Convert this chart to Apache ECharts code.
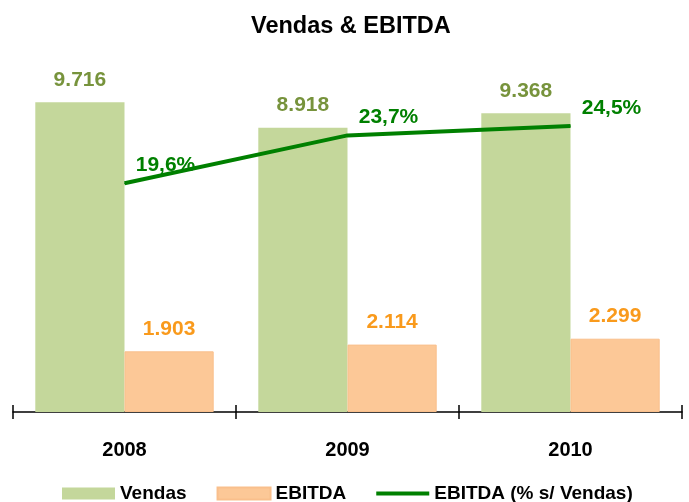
<!DOCTYPE html>
<html>
<head>
<meta charset="utf-8">
<title>Vendas & EBITDA</title>
<script src="https://cdn.jsdelivr.net/npm/echarts@6/dist/echarts.min.js"></script>
<style>
  html, body { margin: 0; padding: 0; background: #fff; }
  #chart { width: 689px; height: 502px; }
</style>
</head>
<body>
<div id="chart"></div>
<script>
// dados
const years = ['2008', '2009', '2010']
const vendas = [9716, 8918, 9368]
const ebitda = [1903, 2114, 2299]
const margem = [19.6, 23.7, 24.5]

const fonte = '"Liberation Sans", Arial, sans-serif'

// 9716 -> "9.716"
const milhar = (v) => String(v).replace(/\B(?=(\d{3})+(?!\d))/g, '.')
// 19.6 -> "19,6%"
const pct = (v) => v.toFixed(1).replace('.', ',') + '%'

// ícone da legenda: só a linha (caixa 53x12, traço de 4px no meio)
const iconeLinha = 'path://M0,0 L1,0 M0,4 L53,4 L53,8 L0,8 Z M0,12 L1,12'

const chart = echarts.init(document.getElementById('chart'))

const option = {
  animation: false,
  textStyle: { fontFamily: fonte },
  title: {
    text: 'Vendas & EBITDA',
    left: 251,
    top: 15,
    padding: 0,
    textStyle: { fontFamily: fonte, fontSize: 23.5, fontWeight: 'bold', color: '#000' }
  },
  legend: {
    left: 62,
    top: 484,
    padding: 0,
    itemWidth: 53,
    itemHeight: 12,
    itemGap: 30,
    textStyle: { fontFamily: fonte, fontSize: 19, fontWeight: 'bold', color: '#000' },
    data: [
      { name: 'Vendas', icon: 'rect' },
      { name: 'EBITDA', icon: 'rect' },
      { name: 'EBITDA (% s/ Vendas)', icon: iconeLinha, itemStyle: { color: '#008000' } }
    ]
  },
  grid: { left: 13, right: 7, top: 72, bottom: 90 },
  xAxis: [
    {
      type: 'category',
      data: years,
      axisLine: { lineStyle: { color: '#000', width: 1.5 } },
      axisTick: { show: true, length: 7, lineStyle: { color: '#000', width: 1.5 } },
      axisLabel: {
        margin: 28,
        fontFamily: fonte,
        fontSize: 20,
        fontWeight: 'bold',
        color: '#000'
      }
    },
    {
      // ticks para dentro (marcas atravessam o eixo)
      type: 'category',
      data: years,
      position: 'bottom',
      axisLine: { show: false },
      axisTick: { show: true, inside: true, length: 7, lineStyle: { color: '#000', width: 1.5 } },
      axisLabel: { show: false }
    }
  ],
  yAxis: [
    { type: 'value', min: 0, max: 10665, show: false, splitLine: { show: false } },
    { type: 'value', min: 0, max: 29.13, show: false, splitLine: { show: false } }
  ],
  series: [
    {
      name: 'Vendas',
      type: 'bar',
      data: vendas,
      barGap: '0%',
      barCategoryGap: '20%',
      itemStyle: { color: '#C4D79B' },
      label: {
        show: true,
        position: 'top',
        distance: 12,
        formatter: (p) => milhar(p.value),
        fontFamily: fonte,
        fontSize: 21,
        fontWeight: 'bold',
        color: '#77933C'
      }
    },
    {
      name: 'EBITDA',
      type: 'bar',
      data: ebitda,
      itemStyle: { color: '#FCC897', borderColor: '#F9BF8C', borderWidth: 1 },
      label: {
        show: true,
        position: 'top',
        distance: 12,
        formatter: (p) => milhar(p.value),
        fontFamily: fonte,
        fontSize: 21,
        fontWeight: 'bold',
        color: '#F99A1C'
      }
    },
    {
      name: 'EBITDA (% s/ Vendas)',
      type: 'line',
      yAxisIndex: 1,
      data: margem,
      symbol: 'circle',
      symbolSize: 1,
      showSymbol: true,
      lineStyle: { color: '#008000', width: 4 },
      itemStyle: { color: '#008000' },
      label: {
        show: true,
        position: 'top',
        distance: 5,
        offset: [41, -2],
        formatter: (p) => pct(p.value),
        fontFamily: fonte,
        fontSize: 21,
        fontWeight: 'bold',
        color: '#008000'
      }
    }
  ]
}

chart.setOption(option)

window.addEventListener('resize', () => {
  chart.resize()
})
</script>
</body>
</html>
